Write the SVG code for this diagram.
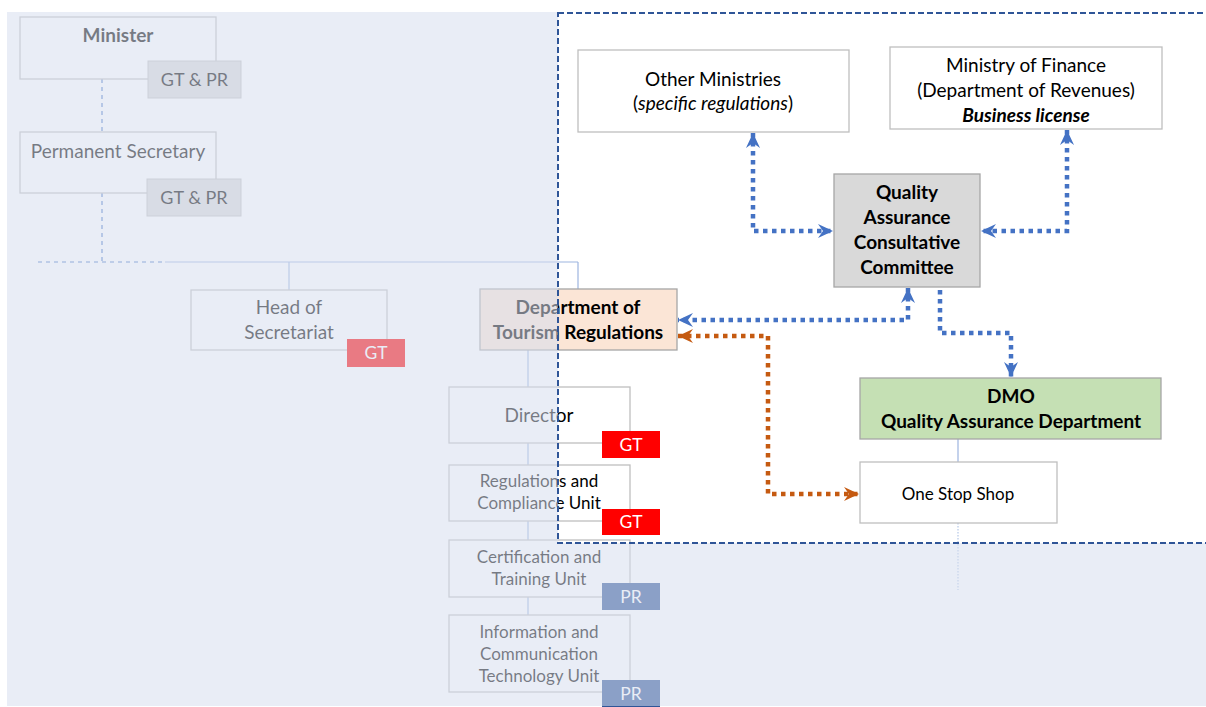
<svg xmlns="http://www.w3.org/2000/svg" width="1206" height="707" viewBox="0 0 1206 707">
  <defs>
    <marker id="arrBlue" viewBox="0 0 15 14" refX="15" refY="7" markerWidth="15" markerHeight="14" markerUnits="userSpaceOnUse" orient="auto-start-reverse">
      <path d="M0,0 L15,7 L0,14 L5,7 z" fill="#4472C4"/>
    </marker>
    <marker id="arrOrange" viewBox="0 0 15 14" refX="15" refY="7" markerWidth="15" markerHeight="14" markerUnits="userSpaceOnUse" orient="auto-start-reverse">
      <path d="M0,0 L15,7 L0,14 L5,7 z" fill="#C55A11"/>
    </marker>
  </defs>
  <style>
    text { font-family: Lato, "Open Sans", "Liberation Sans", sans-serif; fill: #000; text-anchor: middle; }
    .box { fill: #FFFFFF; stroke: #BFBFBF; stroke-width: 1.3; }
    .gbox { stroke: #A6A6A6; stroke-width: 1.3; }
    .tag { stroke: #BFBFBF; stroke-width: 1; }
    .t19 { font-size: 19px; }
    .t18 { font-size: 18px; }
    .t17 { font-size: 17px; }
    .b { font-weight: bold; }
    .tagtxt { font-size: 17.5px; fill: #FFFFFF; }
    .org { fill: none; stroke: #9DB5E0; stroke-width: 1.2; }
    .orgdash { fill: none; stroke: #4472C4; stroke-width: 1.2; stroke-dasharray: 4 4; }
    .blue { fill: none; stroke: #4472C4; stroke-width: 4.5; stroke-dasharray: 4.5 4.5; }
    .orange { fill: none; stroke: #C55A11; stroke-width: 4.5; stroke-dasharray: 4.5 4.5; }
  </style>

  <rect x="0" y="0" width="1206" height="707" fill="#FFFFFF"/>

  <!-- org chart lines -->
  <g id="org-lines">
    <path class="orgdash" d="M102,79 V132 M102,193 V262 M38,262 H165"/>
    <path class="org" d="M165,262 H578 M289,262 V290 M578,262 V289 M528,350 V387 M528,443 V465 M528,521 V540 M528,597 V615 M958,439 V462"/>
    <path fill="none" stroke="#B4C7E7" stroke-width="1.2" stroke-dasharray="1.5 1.5" d="M958,523 V590"/>
  </g>

  <g id="minister">
    <rect class="box" x="20" y="17" width="196" height="62"/>
    <text class="t19 b" x="118" y="42">Minister</text>
    <rect class="tag" x="148" y="61" width="93" height="37" fill="#D9D9D9"/>
    <text class="t18" x="194.5" y="86">GT &amp; PR</text>
  </g>

  <g id="permanent-secretary">
    <rect class="box" x="20" y="132" width="196" height="61"/>
    <text class="t19" x="118" y="158">Permanent Secretary</text>
    <rect class="tag" x="147" y="179" width="94" height="37" fill="#D9D9D9"/>
    <text class="t18" x="194" y="204">GT &amp; PR</text>
  </g>

  <g id="head-of-secretariat">
    <rect class="box" x="191" y="290" width="196" height="60"/>
    <text class="t19" x="289" y="314">Head of</text>
    <text class="t19" x="289" y="339">Secretariat</text>
    <rect x="347" y="339" width="58" height="28" fill="#FF0000"/>
    <text class="tagtxt" x="376" y="359">GT</text>
  </g>

  <g id="dept-tourism-regulations">
    <rect class="gbox" x="480" y="289" width="197" height="61" fill="#FBE5D6"/>
    <text class="t19 b" x="578" y="314">Department of</text>
    <text class="t19 b" x="578" y="339">Tourism Regulations</text>
  </g>

  <g id="director">
    <rect class="box" x="449" y="387" width="181" height="56"/>
    <text class="t19" x="539" y="422">Director</text>
    <rect x="602" y="431" width="58" height="27" fill="#FF0000"/>
    <text class="tagtxt" x="631" y="451">GT</text>
  </g>

  <g id="regulations-compliance">
    <rect class="box" x="449" y="465" width="181" height="56"/>
    <text class="t17" x="539" y="487">Regulations and</text>
    <text class="t17" x="539" y="509">Compliance Unit</text>
    <rect x="602" y="509" width="58" height="26" fill="#FF0000"/>
    <text class="tagtxt" x="631" y="528">GT</text>
  </g>

  <g id="certification-training">
    <rect class="box" x="449" y="540" width="181" height="57"/>
    <text class="t17" x="539" y="563">Certification and</text>
    <text class="t17" x="539" y="585">Training Unit</text>
    <rect x="602" y="583" width="58" height="27" fill="#2F5597"/>
    <text class="tagtxt" x="631" y="603">PR</text>
  </g>

  <g id="ict-unit">
    <rect class="box" x="449" y="615" width="181" height="77"/>
    <text class="t17" x="539" y="638">Information and</text>
    <text class="t17" x="539" y="660">Communication</text>
    <text class="t17" x="539" y="682">Technology Unit</text>
    <rect x="602" y="680" width="58" height="27" fill="#2F5597"/>
    <text class="tagtxt" x="631" y="700">PR</text>
  </g>

  <g id="other-ministries">
    <rect class="box" x="578" y="50" width="271" height="82"/>
    <text class="t19" x="713" y="86">Other Ministries</text>
    <text class="t19" x="713" y="110">(<tspan font-style="italic">specific regulations</tspan>)</text>
  </g>

  <g id="ministry-of-finance">
    <rect class="box" x="890" y="47" width="272" height="82"/>
    <text class="t19" x="1026" y="72">Ministry of Finance</text>
    <text class="t19" x="1026" y="97">(Department of Revenues)</text>
    <text class="t19 b" x="1026" y="122" font-style="italic">Business license</text>
  </g>

  <g id="qa-consultative-committee">
    <rect class="gbox" x="834" y="174" width="146" height="113" fill="#D9D9D9"/>
    <text class="t19 b" x="907" y="199">Quality</text>
    <text class="t19 b" x="907" y="224">Assurance</text>
    <text class="t19 b" x="907" y="249">Consultative</text>
    <text class="t19 b" x="907" y="274">Committee</text>
  </g>

  <g id="dmo-qa-department">
    <rect class="gbox" x="860" y="378" width="301" height="61" fill="#C5E0B4"/>
    <text class="t19 b" x="1011" y="403">DMO</text>
    <text class="t19 b" x="1011" y="428">Quality Assurance Department</text>
  </g>

  <g id="one-stop-shop">
    <rect class="box" x="860" y="462" width="197" height="61"/>
    <text class="t17" x="958" y="500">One Stop Shop</text>
  </g>

  <!-- coordination links -->
  <g id="connectors">
    <path class="blue" d="M753,133 V231 H833" marker-start="url(#arrBlue)" marker-end="url(#arrBlue)"/>
    <path class="blue" d="M1067,130 V231 H981" marker-start="url(#arrBlue)" marker-end="url(#arrBlue)"/>
    <path class="blue" d="M908,288 V320 H678" marker-start="url(#arrBlue)" marker-end="url(#arrBlue)"/>
    <path class="blue" d="M940,290 V333 H1011 V377" marker-end="url(#arrBlue)"/>
    <path class="orange" d="M678,336 H768 V494 H859" marker-start="url(#arrOrange)" marker-end="url(#arrOrange)"/>
  </g>

  <!-- faded band outside the focus area -->
  <path id="fade" d="M7,12 H558 V543 H1206 V706 H7 Z" fill="#D7DEEE" fill-opacity="0.55"/>

  <!-- focus area outline -->
  <rect id="focus-area" x="558" y="13" width="660" height="530" fill="none" stroke="#2F5597" stroke-width="2" stroke-dasharray="6 3"/>
</svg>
